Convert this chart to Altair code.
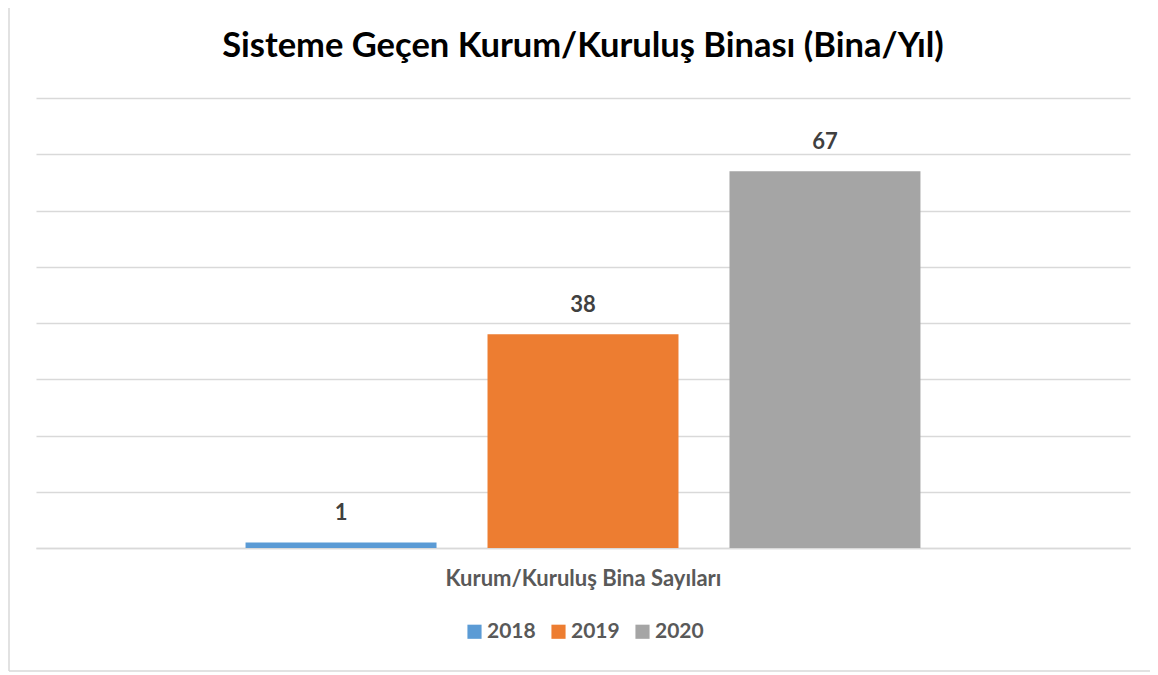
import altair as alt
import pandas as pd

years = ["2018", "2019", "2020"]
values = [1, 38, 67]
colors = ["#5B9BD5", "#ED7D31", "#A5A5A5"]
title_text = "Sisteme Geçen Kurum/Kuruluş Binası (Bina/Yıl)"
category_label = "Kurum/Kuruluş Bina Sayıları"

df = pd.DataFrame({"year": years, "value": values})

FONT = "Lato"

x_enc = alt.X(
    "year:N",
    scale=alt.Scale(paddingInner=0.2107, paddingOuter=0.866),
    axis=alt.Axis(
        labels=False, ticks=False, domain=True, domainColor="#d9d9d9",
        domainWidth=1.5, title=category_label, titleFont=FONT,
        titleFontSize=22, titleFontWeight="bold", titleColor="#595959",
        titlePadding=20,
    ),
)
y_enc = alt.Y(
    "value:Q",
    scale=alt.Scale(domain=[0, 80]),
    axis=alt.Axis(
        labels=False, ticks=False, domain=False, title=None,
        values=[0, 10, 20, 30, 40, 50, 60, 70, 80],
        grid=True, gridColor="#d9d9d9", gridWidth=1.5,
    ),
)

base = alt.Chart(df)

bars = base.mark_bar().encode(
    x=x_enc,
    y=y_enc,
    color=alt.Color(
        "year:N",
        scale=alt.Scale(domain=years, range=colors),
        legend=alt.Legend(
            title=None, orient="none", direction="horizontal",
            legendX=428, legendY=523,
            symbolType="square", symbolSize=200, symbolStrokeWidth=0,
            labelFont=FONT, labelFontSize=21, labelFontWeight="bold",
            labelColor="#595959", columnPadding=12, labelOffset=2,
        ),
    ),
)

labels = base.mark_text(
    baseline="bottom", dy=-17, font=FONT, fontSize=22, fontWeight="bold",
    color="#404040",
).encode(x=x_enc, y=y_enc, text="value:Q")

one = pd.DataFrame({"a": [0]})
left_border = alt.Chart(one).mark_rule(color="#d9d9d9", strokeWidth=1.5).encode(
    x=alt.value(-27), y=alt.value(-92), y2=alt.value(573)
)
bottom_border = alt.Chart(one).mark_rule(color="#d9d9d9", strokeWidth=1.5).encode(
    x=alt.value(-27), x2=alt.value(1114), y=alt.value(573)
)

chart = alt.layer(bars, labels, left_border, bottom_border).properties(
    width=1094,
    height=450,
    title=alt.TitleParams(
        text=title_text, font=FONT, fontSize=34.5, fontWeight="bold",
        color="#000000", anchor="middle", frame="group",
        baseline="alphabetic", offset=-86,
    ),
    autosize=alt.AutoSizeParams(type="none"),
    padding={"left": 28, "top": 90, "right": 20, "bottom": 124},
).configure(background="white").configure_view(stroke=None)

chart.save("out.html", embed_options={"renderer": "svg", "actions": False})
